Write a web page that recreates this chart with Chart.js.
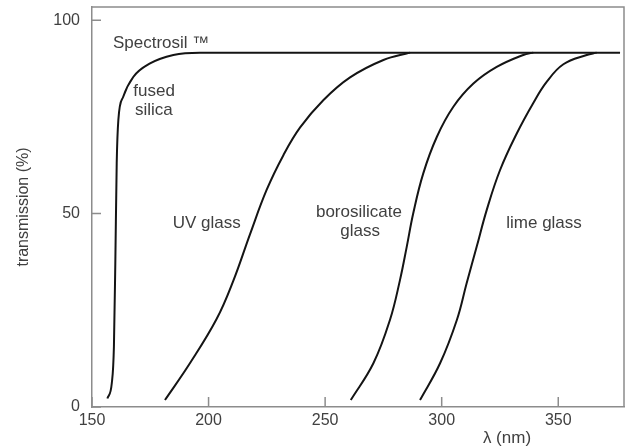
<!DOCTYPE html>
<html>
<head>
<meta charset="utf-8">
<script src="https://cdn.jsdelivr.net/npm/chart.js@4.4.1/dist/chart.umd.min.js"></script>
<style>
  html, body { margin: 0; padding: 0; background: #fff; }
  #wrap { width: 629px; height: 446px; }
</style>
</head>
<body>
<div id="wrap"><canvas id="chart" width="629" height="446"></canvas></div>
<script>
// wavelength (nm) and transmission (%)
const fusedX = [156.6, 158.5, 159.4, 160.0, 160.6, 161.3, 163.4, 167.7, 174.9, 184.9, 196.3, 376.5];
const fusedY = [2.2, 6.2, 15.6, 37.2, 63.0, 74.2, 80.2, 85.3, 88.8, 91.0, 91.6, 91.6];
const uvX = [181.3, 192.0, 203.5, 210.6, 217.8, 224.9, 232.1, 239.2, 249.2, 260.7, 275.0, 286.4];
const uvY = [1.8, 11.3, 22.8, 32.6, 44.7, 56.1, 65.1, 72.2, 79.3, 85.2, 89.7, 91.6];
const boroX = [261.0, 270.7, 277.8, 282.1, 285.0, 287.8, 292.1, 297.9, 305.0, 313.6, 323.6, 335.0, 339.3];
const boroY = [1.8, 11.3, 22.5, 32.8, 41.4, 50.1, 60.4, 69.8, 77.6, 83.6, 87.9, 91.0, 91.6];
const limeX = [290.7, 299.3, 306.5, 310.7, 315.0, 319.3, 325.0, 332.2, 339.3, 345.1, 352.2, 362.2, 366.5];
const limeY = [1.8, 11.3, 22.5, 32.0, 41.4, 50.9, 61.2, 70.7, 78.6, 84.1, 88.6, 91.0, 91.6];

const xTicks = [150, 200, 250, 300, 350];
const yTicks = [0, 50, 100];

// in-plot labels: [text, x (nm), y (%), align]
const labels = [
    ['Spectrosil \u2122', 159.0, 94.1, 'left'],
    ['fused', 167.7, 81.5, 'left'],
    ['silica', 168.4, 76.7, 'left'],
    ['UV glass', 199.2, 47.5, 'center'],
    ['borosilicate', 264.5, 50.2, 'center'],
    ['glass', 265.0, 45.3, 'center'],
    ['lime glass', 343.9, 47.6, 'center'],
    ['\u03bb (nm)', 328.0, -8.0, 'center']
];

const axisColor = '#8c8c8c';
const textColor = '#404040';
const fontFamily = '"Liberation Sans", Arial, sans-serif';

function pts(xs, ys) {
    return xs.map(function(x, i) { return {x: x, y: ys[i]}; });
}

function series(xs, ys, mono) {
    const ds = {
        data: pts(xs, ys),
        borderColor: '#141414',
        borderWidth: 2,
        pointRadius: 0,
        fill: false
    };
    if (mono) ds.cubicInterpolationMode = 'monotone';
    else ds.tension = 0.4;
    return ds;
}

const decor = {
    id: 'decor',
    afterDraw: function(chart) {
        const ctx = chart.ctx;
        const a = chart.chartArea;
        const xs = chart.scales.x, ys = chart.scales.y;
        ctx.save();
        ctx.strokeStyle = axisColor;
        ctx.lineWidth = 1.5;
        ctx.beginPath();
        ctx.moveTo(a.left, a.top);
        ctx.lineTo(a.right, a.top);
        ctx.lineTo(a.right, a.bottom);
        ctx.stroke();
        // inward tick marks
        ctx.beginPath();
        ys.ticks.forEach(function(t) {
            const y = ys.getPixelForValue(t.value);
            ctx.moveTo(a.left, y);
            ctx.lineTo(a.left + 9, y);
        });
        xs.ticks.forEach(function(t) {
            const x = xs.getPixelForValue(t.value);
            ctx.moveTo(x, a.bottom);
            ctx.lineTo(x, a.bottom - 10);
        });
        ctx.stroke();
        // labels
        ctx.fillStyle = textColor;
        ctx.font = '17px ' + fontFamily;
        ctx.textBaseline = 'middle';
        labels.forEach(function(l) {
            ctx.textAlign = l[3];
            ctx.fillText(l[0], xs.getPixelForValue(l[1]), ys.getPixelForValue(l[2]));
        });
        ctx.restore();
    }
};

function noPad(s) {
    s.paddingTop = 0;
    s.paddingBottom = 0;
    s.paddingLeft = 0;
    s.paddingRight = 0;
}

new Chart(document.getElementById('chart'), {
    type: 'line',
    data: {
        datasets: [
            series(fusedX, fusedY, true),
            series(uvX, uvY),
            series(boroX, boroY),
            series(limeX, limeY)
        ]
    },
    options: {
        responsive: false,
        animation: false,
        layout: { padding: { top: 7, right: 5, left: 0, bottom: 0 } },
        plugins: { legend: { display: false }, tooltip: { enabled: false } },
        scales: {
            x: {
                type: 'linear',
                min: 150,
                max: 378.2,
                afterBuildTicks: function(s) { s.ticks = xTicks.map(function(v) { return {value: v}; }); },
                afterFit: function(s) { s.height = 39; noPad(s); },
                grid: { display: false, drawTicks: false },
                border: { display: true, color: axisColor, width: 1.5 },
                ticks: { color: textColor, padding: 4, font: { size: 16, family: fontFamily }, maxRotation: 0 }
            },
            y: {
                type: 'linear',
                min: 0,
                max: 103.4,
                afterBuildTicks: function(s) { s.ticks = yTicks.map(function(v) { return {value: v}; }); },
                afterFit: function(s) { s.width = 92; noPad(s); },
                grid: { display: false, drawTicks: false },
                border: { display: true, color: axisColor, width: 1.5 },
                ticks: { color: textColor, padding: 12, font: { size: 16, family: fontFamily } },
                title: {
                    display: true,
                    text: 'transmission (%)',
                    color: textColor,
                    padding: { top: 14, bottom: 0 },
                    font: { size: 16, family: fontFamily }
                }
            }
        }
    },
    plugins: [decor]
});
</script>
</body>
</html>
